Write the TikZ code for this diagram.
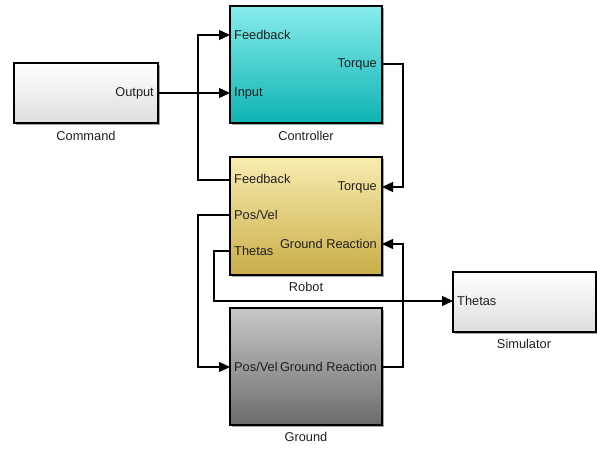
\documentclass[tikz,border=0pt]{standalone}
\usepackage{fontspec}
\setmainfont{Liberation Sans}
\usetikzlibrary{shadows,arrows.meta}
\definecolor{cyanT}{HTML}{88ECEC}
\definecolor{cyanB}{HTML}{0DB3B3}
\definecolor{robT}{HTML}{F8ECB0}
\definecolor{robB}{HTML}{C9AE48}
\definecolor{grdT}{HTML}{C8C8C8}
\definecolor{grdB}{HTML}{6C6C6C}
\definecolor{whtB}{HTML}{DEDEDE}
\definecolor{txt}{HTML}{202020}
\begin{document}
\begin{tikzpicture}[x=1pt,y=-1pt,
  font=\fontsize{12.8}{15}\selectfont,
  blk/.style={draw=black, line width=1.3pt, inner sep=0pt, shading=axis, shading angle=0,
    drop shadow={shadow xshift=1.6pt, shadow yshift=-1.6pt, fill=black, opacity=0.35}},
  wire/.style={line width=1.3pt},
  arr/.style={wire, -{Triangle[length=11pt,width=10pt]}},
  lbl/.style={inner sep=0pt, text=txt},
  pin/.style={inner sep=0pt, anchor=west, text=txt},
  pout/.style={inner sep=0pt, anchor=east, text=txt}]
\useasboundingbox (0,0) rectangle (597,449);
\fill[white] (0,0) rectangle (597,449);
% blocks
\node[blk, minimum width=144pt, minimum height=60pt, top color=white, bottom color=whtB] (cmd) at (86,93) {};
\node[blk, minimum width=152pt, minimum height=117pt, top color=cyanT, bottom color=cyanB] (ctrl) at (306,64.5) {};
\node[blk, minimum width=152pt, minimum height=118pt, top color=robT, bottom color=robB] (rob) at (306,216) {};
\node[blk, minimum width=152pt, minimum height=117pt, top color=grdT, bottom color=grdB] (grd) at (306,366.5) {};
\node[blk, minimum width=143pt, minimum height=60pt, top color=white, bottom color=whtB] (sim) at (524.5,302) {};
% block names
\node[lbl] (cmdN) at (86,136) {Command};
\node[lbl] (ctrlN) at (306,136) {Controller};
\node[lbl] (robN) at (306,287) {Robot};
\node[lbl] (grdN) at (306,437) {Ground};
\node[lbl] (simN) at (524,344) {Simulator};
% ports
\coordinate (cmdOut) at (158,93);
\coordinate (ctrlFb) at (230,35);
\coordinate (ctrlIn) at (230,93);
\coordinate (ctrlTq) at (382,64);
\coordinate (robFb) at (230,180);
\coordinate (robTq) at (382,187);
\coordinate (robPV) at (230,215);
\coordinate (robTh) at (230,251);
\coordinate (robGR) at (382,244);
\coordinate (grdPV) at (230,367);
\coordinate (grdGR) at (382,367);
\coordinate (simTh) at (453,301);
% port labels
\node[pout] (tOut) at (154,93) {Output};
\node[pin] (tCFb) at (234,35) {Feedback};
\node[pin] (tCIn) at (234,93) {Input};
\node[pout] (tCTq) at (377,64) {Torque};
\node[pin] (tRFb) at (234,179) {Feedback};
\node[pout] (tRTq) at (377,187) {Torque};
\node[pin] (tRPV) at (234,215) {Pos/Vel};
\node[pin] (tRTh) at (234,251) {Thetas};
\node[pout] (tRGR) at (377,244) {Ground Reaction};
\node[pin] (tGPV) at (234,367) {Pos/Vel};
\node[pout] (tGGR) at (377,367) {Ground Reaction};
\node[pin] (tSTh) at (457,301) {Thetas};
% wires
\draw[arr] (cmdOut) -- (ctrlIn);
\draw[arr] (robFb) -- (198,180) -- (198,35) -- (ctrlFb);
\draw[arr] (ctrlTq) -- (403,64) -- (403,187) -- (robTq);
\draw[arr] (robPV) -- (198,215) -- (198,367) -- (grdPV);
\draw[arr] (grdGR) -- (403,367) -- (403,244) -- (robGR);
\draw[arr] (robTh) -- (214,251) -- (214,301) -- (simTh);
\end{tikzpicture}
\end{document}
